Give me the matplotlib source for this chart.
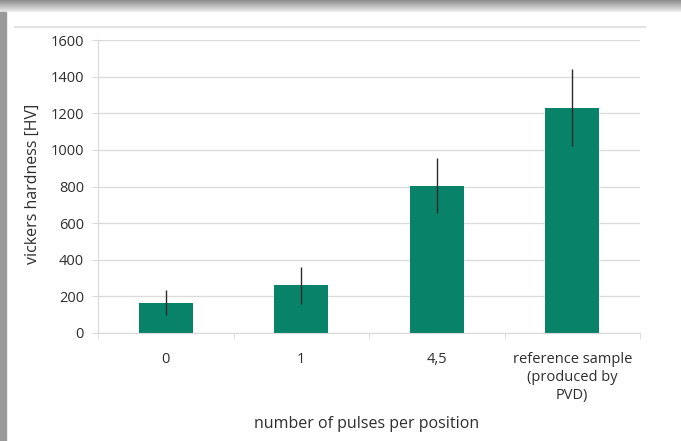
import numpy as np
import matplotlib.pyplot as plt
from matplotlib.patches import Rectangle
from matplotlib.lines import Line2D

categories = ['0', '1', '4,5', 'reference sample\n(produced by\nPVD)']
hardness = [165, 260, 805, 1230]
hardness_err = [68, 100, 150, 210]
yticks = [0, 200, 400, 600, 800, 1000, 1200, 1400, 1600]

plt.rcParams['font.family'] = ['Open Sans', 'DejaVu Sans']
text_col = '#2e2e2e'
bar_col = '#08836a'

W, H = 681, 441
fig = plt.figure(figsize=(W / 100, H / 100), dpi=100, facecolor='white')

# grey shadow along the top edge and left border
shade = fig.add_axes([0, 1 - 12 / H, 1, 12 / H])
grad = np.linspace(0.55, 0.93, 50).reshape(-1, 1)
shade.imshow(grad, aspect='auto', cmap='gray', vmin=0, vmax=1,
             extent=[0, 1, 0, 1])
shade.axis('off')
fig.patches.append(Rectangle((0, 0), 6 / W, 1 - 12 / H, transform=fig.transFigure,
                             color='#9a9a9a', zorder=0))
fig.lines.append(Line2D([15 / W, 645 / W], [1 - 27 / H, 1 - 27 / H],
                        transform=fig.transFigure, color='#e2e2e2', lw=1.5))

ax = fig.add_axes([98 / W, 1 - 333 / H, (640 - 98) / W, (333 - 40) / H])
x = np.arange(len(categories))
ax.bar(x, hardness, width=0.4, color=bar_col, zorder=2)
ax.errorbar(x, hardness, yerr=hardness_err, fmt='none', ecolor='#2a2a2a',
            elinewidth=1, capsize=0, zorder=3)

ax.set_xlim(-0.5, len(categories) - 0.5)
ax.set_ylim(0, 1600)
ax.set_yticks(yticks)
ax.set_xticks(x)
ax.set_xticklabels(categories, fontsize=10.5, color=text_col, linespacing=1.25)
ax.tick_params(axis='y', labelsize=10.5, labelcolor=text_col, length=4,
               color='#d9d9d9', pad=6)
ax.tick_params(axis='x', length=0, pad=14)
ax.set_xticks(np.arange(len(categories) + 1) - 0.5, minor=True)
ax.tick_params(axis='x', which='minor', length=4, color='#d9d9d9')
ax.grid(axis='y', color='#dcdcdc', lw=1, zorder=0)
for s in ['top', 'right']:
    ax.spines[s].set_visible(False)
for s in ['left', 'bottom']:
    ax.spines[s].set_color('#d9d9d9')

ax.set_ylabel('vickers hardness [HV]', fontsize=11.5, color=text_col, va='center')
ax.yaxis.set_label_coords(-0.12, 0.51)
ax.set_xlabel('number of pulses per position', fontsize=11.5, color=text_col,
              va='center')
ax.xaxis.set_label_coords(0.495, -0.31)

fig.savefig('out.png', dpi=100)
